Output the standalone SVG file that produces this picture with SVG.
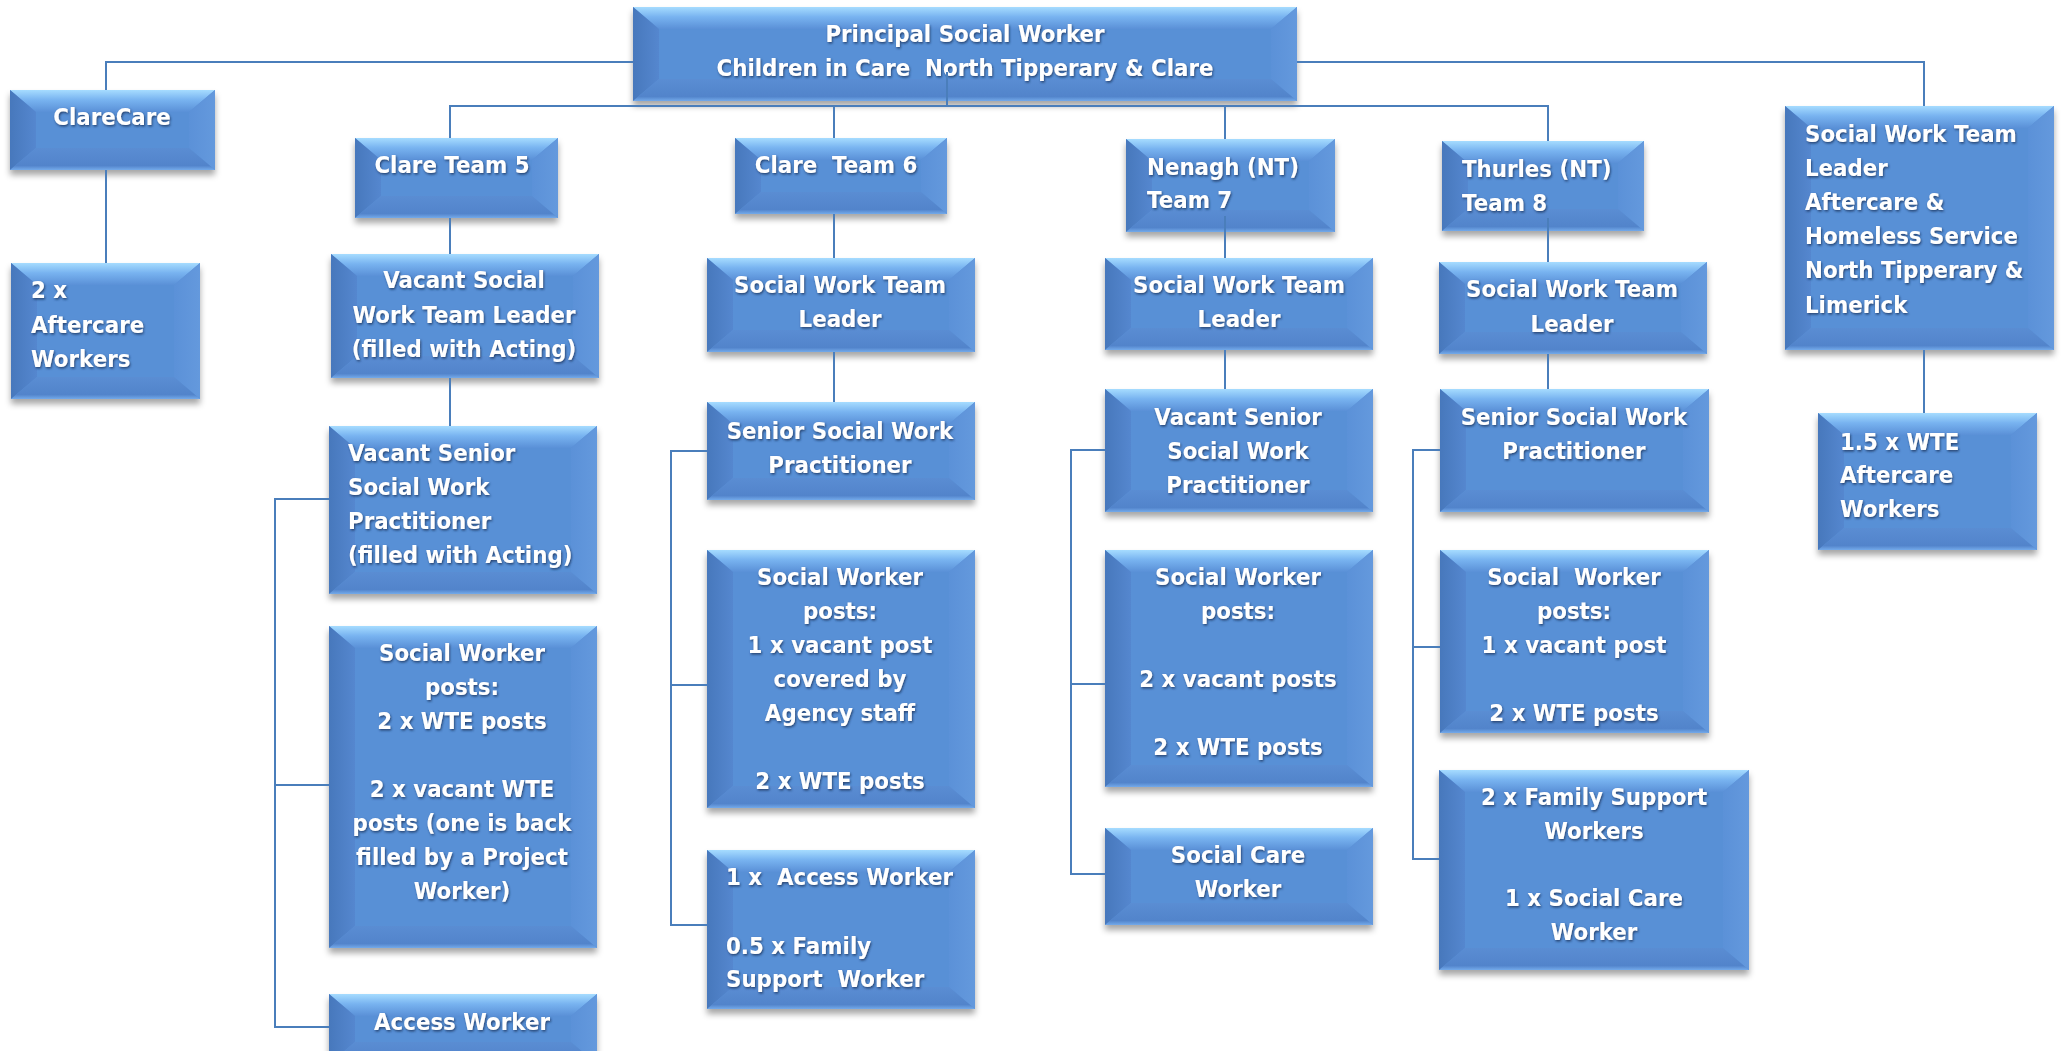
<svg xmlns="http://www.w3.org/2000/svg" width="2063" height="1051" viewBox="0 0 2063 1051">
<defs>
<linearGradient id="gTop" x1="0" y1="0" x2="0" y2="1"><stop offset="0" stop-color="#A6DCFF"/><stop offset="0.45" stop-color="#78B3F0"/><stop offset="1" stop-color="#5A90D7"/></linearGradient>
<linearGradient id="gLeft" x1="0" y1="0" x2="1" y2="0"><stop offset="0" stop-color="#4778BC"/><stop offset="1" stop-color="#5587CF"/></linearGradient>
<linearGradient id="gRight" x1="0" y1="0" x2="1" y2="0"><stop offset="0" stop-color="#5B91D8"/><stop offset="1" stop-color="#6499DD"/></linearGradient>
<linearGradient id="gBot" x1="0" y1="0" x2="0" y2="1"><stop offset="0" stop-color="#5A8DD3"/><stop offset="0.8" stop-color="#5284CB"/><stop offset="1" stop-color="#74AAEA"/></linearGradient>
<filter id="shadow" x="-10%" y="-10%" width="120%" height="130%"><feDropShadow dx="0" dy="5" stdDeviation="3" flood-color="#000" flood-opacity="0.35"/></filter>
<filter id="tshadow" x="-5%" y="-20%" width="110%" height="150%"><feDropShadow dx="1" dy="1.5" stdDeviation="1.1" flood-color="#1B2E58" flood-opacity="0.8"/></filter>
</defs>
<style>
.base{fill:#5890D6;filter:url(#shadow)}
.bt{fill:url(#gTop)}
.bl{fill:url(#gLeft)}
.br{fill:url(#gRight)}
.bb{fill:url(#gBot)}
.t{font-family:"DejaVu Sans",Verdana,sans-serif;font-weight:bold;font-size:23.5px;fill:#FFFFFF;filter:url(#tshadow);white-space:pre}
.c{text-anchor:middle}
.conn{fill:none;stroke:#4A7EBB;stroke-width:2}
</style>
<rect width="2063" height="1051" fill="#FFFFFF"/>

<g id="n-principal">
<rect class="base" x="633" y="7" width="664" height="94"/>
<polygon class="bt" points="633,7 1297,7 1271,29 659,29"/>
<polygon class="bl" points="633,7 659,29 659,79 633,101"/>
<polygon class="br" points="1297,7 1297,101 1271,79 1271,29"/>
<polygon class="bb" points="633,101 659,79 1271,79 1297,101"/>
<text class="t c" transform="matrix(0.91 0 0 1 965 0)" xml:space="preserve"><tspan x="0" y="42">Principal Social Worker</tspan><tspan x="0" y="76">Children in Care  North Tipperary &amp; Clare</tspan></text>
</g>

<g id="n-clarecare">
<rect class="base" x="10" y="90" width="205" height="80"/>
<polygon class="bt" points="10,90 215,90 189,112 36,112"/>
<polygon class="bl" points="10,90 36,112 36,148 10,170"/>
<polygon class="br" points="215,90 215,170 189,148 189,112"/>
<polygon class="bb" points="10,170 36,148 189,148 215,170"/>
<text class="t c" transform="matrix(0.91 0 0 1 112 0)" x="0" y="125">ClareCare</text>
</g>

<g id="n-aftercare2">
<rect class="base" x="11" y="263" width="189" height="136"/>
<polygon class="bt" points="11,263 200,263 174,285 37,285"/>
<polygon class="bl" points="11,263 37,285 37,377 11,399"/>
<polygon class="br" points="200,263 200,399 174,377 174,285"/>
<polygon class="bb" points="11,399 37,377 174,377 200,399"/>
<text class="t" transform="matrix(0.91 0 0 1 31 0)"><tspan x="0" y="298">2 x</tspan><tspan x="0" y="333">Aftercare</tspan><tspan x="0" y="367">Workers</tspan></text>
</g>

<g id="n-clare5">
<rect class="base" x="355" y="138" width="203" height="80"/>
<polygon class="bt" points="355,138 558,138 532,160 381,160"/>
<polygon class="bl" points="355,138 381,160 381,196 355,218"/>
<polygon class="br" points="558,138 558,218 532,196 532,160"/>
<polygon class="bb" points="355,218 381,196 532,196 558,218"/>
<text class="t c" transform="matrix(0.91 0 0 1 452 0)" x="0" y="173">Clare Team 5</text>
</g>

<g id="n-t5-leader">
<rect class="base" x="331" y="254" width="268" height="124"/>
<polygon class="bt" points="331,254 599,254 573,276 357,276"/>
<polygon class="bl" points="331,254 357,276 357,356 331,378"/>
<polygon class="br" points="599,254 599,378 573,356 573,276"/>
<polygon class="bb" points="331,378 357,356 573,356 599,378"/>
<text class="t c" transform="matrix(0.91 0 0 1 464 0)"><tspan x="0" y="288">Vacant Social</tspan><tspan x="0" y="323">Work Team Leader</tspan><tspan x="0" y="357">(filled with Acting)</tspan></text>
</g>

<g id="n-t5-senior">
<rect class="base" x="329" y="426" width="268" height="168"/>
<polygon class="bt" points="329,426 597,426 571,448 355,448"/>
<polygon class="bl" points="329,426 355,448 355,572 329,594"/>
<polygon class="br" points="597,426 597,594 571,572 571,448"/>
<polygon class="bb" points="329,594 355,572 571,572 597,594"/>
<text class="t" transform="matrix(0.91 0 0 1 348 0)"><tspan x="0" y="461">Vacant Senior</tspan><tspan x="0" y="495">Social Work</tspan><tspan x="0" y="529">Practitioner</tspan><tspan x="0" y="563">(filled with Acting)</tspan></text>
</g>

<g id="n-t5-posts">
<rect class="base" x="329" y="626" width="268" height="322"/>
<polygon class="bt" points="329,626 597,626 571,648 355,648"/>
<polygon class="bl" points="329,626 355,648 355,926 329,948"/>
<polygon class="br" points="597,626 597,948 571,926 571,648"/>
<polygon class="bb" points="329,948 355,926 571,926 597,948"/>
<text class="t c" transform="matrix(0.91 0 0 1 462 0)"><tspan x="0" y="661">Social Worker</tspan><tspan x="0" y="695">posts:</tspan><tspan x="0" y="729">2 x WTE posts</tspan><tspan x="0" y="797">2 x vacant WTE</tspan><tspan x="0" y="831">posts (one is back</tspan><tspan x="0" y="865">filled by a Project</tspan><tspan x="0" y="899">Worker)</tspan></text>
</g>

<g id="n-t5-access">
<rect class="base" x="329" y="994" width="268" height="70"/>
<polygon class="bt" points="329,994 597,994 571,1016 355,1016"/>
<polygon class="bl" points="329,994 355,1016 355,1042 329,1064"/>
<polygon class="br" points="597,994 597,1064 571,1042 571,1016"/>
<polygon class="bb" points="329,1064 355,1042 571,1042 597,1064"/>
<text class="t c" transform="matrix(0.91 0 0 1 462 0)" x="0" y="1030">Access Worker</text>
</g>

<g id="n-clare6">
<rect class="base" x="735" y="138" width="212" height="76"/>
<polygon class="bt" points="735,138 947,138 921,160 761,160"/>
<polygon class="bl" points="735,138 761,160 761,192 735,214"/>
<polygon class="br" points="947,138 947,214 921,192 921,160"/>
<polygon class="bb" points="735,214 761,192 921,192 947,214"/>
<text class="t c" transform="matrix(0.91 0 0 1 836 0)" x="0" y="173" xml:space="preserve">Clare  Team 6</text>
</g>

<g id="n-t6-leader">
<rect class="base" x="707" y="258" width="268" height="94"/>
<polygon class="bt" points="707,258 975,258 949,280 733,280"/>
<polygon class="bl" points="707,258 733,280 733,330 707,352"/>
<polygon class="br" points="975,258 975,352 949,330 949,280"/>
<polygon class="bb" points="707,352 733,330 949,330 975,352"/>
<text class="t c" transform="matrix(0.91 0 0 1 840 0)"><tspan x="0" y="293">Social Work Team</tspan><tspan x="0" y="327">Leader</tspan></text>
</g>

<g id="n-t6-senior">
<rect class="base" x="707" y="402" width="268" height="98"/>
<polygon class="bt" points="707,402 975,402 949,424 733,424"/>
<polygon class="bl" points="707,402 733,424 733,478 707,500"/>
<polygon class="br" points="975,402 975,500 949,478 949,424"/>
<polygon class="bb" points="707,500 733,478 949,478 975,500"/>
<text class="t c" transform="matrix(0.91 0 0 1 840 0)"><tspan x="0" y="439">Senior Social Work</tspan><tspan x="0" y="473">Practitioner</tspan></text>
</g>

<g id="n-t6-posts">
<rect class="base" x="707" y="550" width="268" height="258"/>
<polygon class="bt" points="707,550 975,550 949,572 733,572"/>
<polygon class="bl" points="707,550 733,572 733,786 707,808"/>
<polygon class="br" points="975,550 975,808 949,786 949,572"/>
<polygon class="bb" points="707,808 733,786 949,786 975,808"/>
<text class="t c" transform="matrix(0.91 0 0 1 840 0)"><tspan x="0" y="585">Social Worker</tspan><tspan x="0" y="619">posts:</tspan><tspan x="0" y="653">1 x vacant post</tspan><tspan x="0" y="687">covered by</tspan><tspan x="0" y="721">Agency staff</tspan><tspan x="0" y="789">2 x WTE posts</tspan></text>
</g>

<g id="n-t6-access">
<rect class="base" x="707" y="850" width="268" height="159"/>
<polygon class="bt" points="707,850 975,850 949,872 733,872"/>
<polygon class="bl" points="707,850 733,872 733,987 707,1009"/>
<polygon class="br" points="975,850 975,1009 949,987 949,872"/>
<polygon class="bb" points="707,1009 733,987 949,987 975,1009"/>
<text class="t" transform="matrix(0.91 0 0 1 726 0)" xml:space="preserve"><tspan x="0" y="885">1 x  Access Worker</tspan><tspan x="0" y="954">0.5 x Family</tspan><tspan x="0" y="987">Support  Worker</tspan></text>
</g>

<g id="n-nenagh7">
<rect class="base" x="1126" y="139" width="209" height="93"/>
<polygon class="bt" points="1126,139 1335,139 1309,161 1152,161"/>
<polygon class="bl" points="1126,139 1152,161 1152,210 1126,232"/>
<polygon class="br" points="1335,139 1335,232 1309,210 1309,161"/>
<polygon class="bb" points="1126,232 1152,210 1309,210 1335,232"/>
<text class="t" transform="matrix(0.91 0 0 1 1147 0)"><tspan x="0" y="175">Nenagh (NT)</tspan><tspan x="0" y="208">Team 7</tspan></text>
</g>

<g id="n-t7-leader">
<rect class="base" x="1105" y="258" width="268" height="92"/>
<polygon class="bt" points="1105,258 1373,258 1347,280 1131,280"/>
<polygon class="bl" points="1105,258 1131,280 1131,328 1105,350"/>
<polygon class="br" points="1373,258 1373,350 1347,328 1347,280"/>
<polygon class="bb" points="1105,350 1131,328 1347,328 1373,350"/>
<text class="t c" transform="matrix(0.91 0 0 1 1239 0)"><tspan x="0" y="293">Social Work Team</tspan><tspan x="0" y="327">Leader</tspan></text>
</g>

<g id="n-t7-senior">
<rect class="base" x="1105" y="389" width="268" height="123"/>
<polygon class="bt" points="1105,389 1373,389 1347,411 1131,411"/>
<polygon class="bl" points="1105,389 1131,411 1131,490 1105,512"/>
<polygon class="br" points="1373,389 1373,512 1347,490 1347,411"/>
<polygon class="bb" points="1105,512 1131,490 1347,490 1373,512"/>
<text class="t c" transform="matrix(0.91 0 0 1 1238 0)"><tspan x="0" y="425">Vacant Senior</tspan><tspan x="0" y="459">Social Work</tspan><tspan x="0" y="493">Practitioner</tspan></text>
</g>

<g id="n-t7-posts">
<rect class="base" x="1105" y="550" width="268" height="237"/>
<polygon class="bt" points="1105,550 1373,550 1347,572 1131,572"/>
<polygon class="bl" points="1105,550 1131,572 1131,765 1105,787"/>
<polygon class="br" points="1373,550 1373,787 1347,765 1347,572"/>
<polygon class="bb" points="1105,787 1131,765 1347,765 1373,787"/>
<text class="t c" transform="matrix(0.91 0 0 1 1238 0)"><tspan x="0" y="585">Social Worker</tspan><tspan x="0" y="619">posts:</tspan><tspan x="0" y="687">2 x vacant posts</tspan><tspan x="0" y="755">2 x WTE posts</tspan></text>
</g>

<g id="n-t7-care">
<rect class="base" x="1105" y="828" width="268" height="97"/>
<polygon class="bt" points="1105,828 1373,828 1347,850 1131,850"/>
<polygon class="bl" points="1105,828 1131,850 1131,903 1105,925"/>
<polygon class="br" points="1373,828 1373,925 1347,903 1347,850"/>
<polygon class="bb" points="1105,925 1131,903 1347,903 1373,925"/>
<text class="t c" transform="matrix(0.91 0 0 1 1238 0)"><tspan x="0" y="863">Social Care</tspan><tspan x="0" y="897">Worker</tspan></text>
</g>

<g id="n-thurles8">
<rect class="base" x="1442" y="141" width="202" height="90"/>
<polygon class="bt" points="1442,141 1644,141 1618,163 1468,163"/>
<polygon class="bl" points="1442,141 1468,163 1468,209 1442,231"/>
<polygon class="br" points="1644,141 1644,231 1618,209 1618,163"/>
<polygon class="bb" points="1442,231 1468,209 1618,209 1644,231"/>
<text class="t" transform="matrix(0.91 0 0 1 1462 0)"><tspan x="0" y="177">Thurles (NT)</tspan><tspan x="0" y="211">Team 8</tspan></text>
</g>

<g id="n-t8-leader">
<rect class="base" x="1439" y="262" width="268" height="92"/>
<polygon class="bt" points="1439,262 1707,262 1681,284 1465,284"/>
<polygon class="bl" points="1439,262 1465,284 1465,332 1439,354"/>
<polygon class="br" points="1707,262 1707,354 1681,332 1681,284"/>
<polygon class="bb" points="1439,354 1465,332 1681,332 1707,354"/>
<text class="t c" transform="matrix(0.91 0 0 1 1572 0)"><tspan x="0" y="297">Social Work Team</tspan><tspan x="0" y="332">Leader</tspan></text>
</g>

<g id="n-t8-senior">
<rect class="base" x="1440" y="389" width="269" height="123"/>
<polygon class="bt" points="1440,389 1709,389 1683,411 1466,411"/>
<polygon class="bl" points="1440,389 1466,411 1466,490 1440,512"/>
<polygon class="br" points="1709,389 1709,512 1683,490 1683,411"/>
<polygon class="bb" points="1440,512 1466,490 1683,490 1709,512"/>
<text class="t c" transform="matrix(0.91 0 0 1 1574 0)"><tspan x="0" y="425">Senior Social Work</tspan><tspan x="0" y="459">Practitioner</tspan></text>
</g>

<g id="n-t8-posts">
<rect class="base" x="1440" y="550" width="269" height="183"/>
<polygon class="bt" points="1440,550 1709,550 1683,572 1466,572"/>
<polygon class="bl" points="1440,550 1466,572 1466,711 1440,733"/>
<polygon class="br" points="1709,550 1709,733 1683,711 1683,572"/>
<polygon class="bb" points="1440,733 1466,711 1683,711 1709,733"/>
<text class="t c" transform="matrix(0.91 0 0 1 1574 0)" xml:space="preserve"><tspan x="0" y="585">Social  Worker</tspan><tspan x="0" y="619">posts:</tspan><tspan x="0" y="653">1 x vacant post</tspan><tspan x="0" y="721">2 x WTE posts</tspan></text>
</g>

<g id="n-t8-family">
<rect class="base" x="1439" y="770" width="310" height="200"/>
<polygon class="bt" points="1439,770 1749,770 1723,792 1465,792"/>
<polygon class="bl" points="1439,770 1465,792 1465,948 1439,970"/>
<polygon class="br" points="1749,770 1749,970 1723,948 1723,792"/>
<polygon class="bb" points="1439,970 1465,948 1723,948 1749,970"/>
<text class="t c" transform="matrix(0.91 0 0 1 1594 0)"><tspan x="0" y="805">2 x Family Support</tspan><tspan x="0" y="839">Workers</tspan><tspan x="0" y="906">1 x Social Care</tspan><tspan x="0" y="940">Worker</tspan></text>
</g>

<g id="n-aftercare-leader">
<rect class="base" x="1785" y="106" width="269" height="244"/>
<polygon class="bt" points="1785,106 2054,106 2028,128 1811,128"/>
<polygon class="bl" points="1785,106 1811,128 1811,328 1785,350"/>
<polygon class="br" points="2054,106 2054,350 2028,328 2028,128"/>
<polygon class="bb" points="1785,350 1811,328 2028,328 2054,350"/>
<text class="t" transform="matrix(0.91 0 0 1 1805 0)"><tspan x="0" y="142">Social Work Team</tspan><tspan x="0" y="176">Leader</tspan><tspan x="0" y="210">Aftercare &amp;</tspan><tspan x="0" y="244">Homeless Service</tspan><tspan x="0" y="278">North Tipperary &amp;</tspan><tspan x="0" y="313">Limerick</tspan></text>
</g>

<g id="n-aftercare-workers">
<rect class="base" x="1818" y="413" width="219" height="137"/>
<polygon class="bt" points="1818,413 2037,413 2011,435 1844,435"/>
<polygon class="bl" points="1818,413 1844,435 1844,528 1818,550"/>
<polygon class="br" points="2037,413 2037,550 2011,528 2011,435"/>
<polygon class="bb" points="1818,550 1844,528 2011,528 2037,550"/>
<text class="t" transform="matrix(0.91 0 0 1 1840 0)"><tspan x="0" y="450">1.5 x WTE</tspan><tspan x="0" y="483">Aftercare</tspan><tspan x="0" y="517">Workers</tspan></text>
</g>

<g id="connectors">
<path class="conn" d="M106 90 V62 H633"/>
<path class="conn" d="M1297 62 H1924 V106"/>
<path class="conn" d="M106 170 V263"/>
<path class="conn" d="M450 138 V106 H1548 V141"/>
<path class="conn" d="M947 72 V106"/>
<path class="conn" d="M834 106 V138"/>
<path class="conn" d="M1225 106 V139"/>
<path class="conn" d="M450 218 V254"/>
<path class="conn" d="M450 378 V426"/>
<path class="conn" d="M834 214 V258"/>
<path class="conn" d="M834 352 V402"/>
<path class="conn" d="M1225 216 V258"/>
<path class="conn" d="M1225 350 V389"/>
<path class="conn" d="M1548 218 V262"/>
<path class="conn" d="M1548 354 V389"/>
<path class="conn" d="M1924 350 V413"/>
<path class="conn" d="M329 499 H275 V1027 H329 M275 785 H329"/>
<path class="conn" d="M707 451 H671 V925 H707 M671 685 H707"/>
<path class="conn" d="M1105 450 H1071 V874 H1105 M1071 684 H1105"/>
<path class="conn" d="M1440 450 H1413 V859 H1439 M1413 647 H1440"/>
</g>
</svg>
